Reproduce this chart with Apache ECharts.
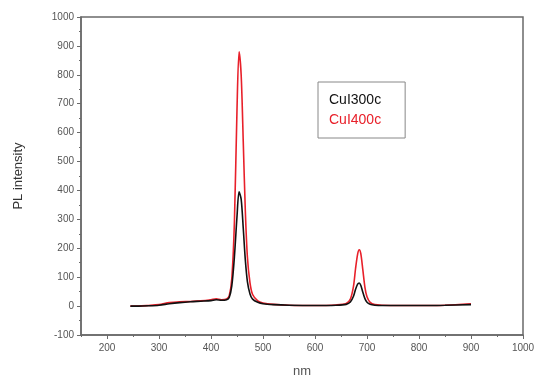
<!DOCTYPE html>
<html>
<head>
<meta charset="utf-8">
<script src="https://cdn.jsdelivr.net/npm/echarts@6/dist/echarts.min.js"></script>
<style>
    html, body { margin: 0; padding: 0; background: #fff; }
    #chart { width: 539px; height: 383px; }
</style>
</head>
<body>
<div id="chart"></div>
<script>
// wavelength (nm) sample points, shared by both curves
const nm = [245, 260, 280, 300, 320, 340, 360, 380, 400, 410, 420, 430, 435, 440, 445, 450, 454, 458, 462, 466, 470, 475, 480, 490, 500, 520, 550, 600, 640, 660, 668, 674, 678, 682, 685, 688, 692, 696, 700, 706, 715, 730, 800, 850, 900]
// PL intensity
const cui300c = [0, 0, 1, 3, 8, 12, 15, 17, 19, 22, 20, 22, 30, 70, 170, 310, 395, 370, 270, 160, 85, 42, 24, 13, 8, 5, 3, 2, 3, 6, 14, 34, 58, 76, 80, 72, 48, 26, 13, 6, 3, 2, 2, 3, 5]
const cui400c = [0, 0, 2, 5, 12, 15, 16, 18, 22, 25, 22, 25, 35, 95, 290, 680, 880, 800, 570, 330, 170, 80, 40, 18, 11, 6, 3, 2, 4, 9, 24, 68, 130, 180, 195, 182, 125, 65, 32, 13, 5, 3, 2, 3, 8]
const xTicks = [200, 300, 400, 500, 600, 700, 800, 900, 1000]

const toPairs = (ys) => nm.map((x, i) => [x, ys[i]])

const chart = echarts.init(document.getElementById('chart'))
const axisColor = '#6a6a6a'
const labelColor = '#555'
const font = 'Liberation Sans, Arial, sans-serif'

const option = {
    animation: false,
    backgroundColor: '#fff',
    textStyle: { fontFamily: font },
    grid: {
        left: 81,
        right: 16,
        top: 17,
        bottom: 47,
        show: true,
        borderColor: axisColor,
        borderWidth: 1.5
    },
    legend: {
        orient: 'vertical',
        left: 318,
        top: 82,
        selectedMode: false,
        itemWidth: 0,
        itemHeight: 0,
        itemGap: 6,
        padding: [11, 24, 11, 5],
        borderColor: '#888',
        borderWidth: 1,
        textStyle: { fontSize: 14, fontFamily: font },
        data: [
            { name: 'CuI300c', textStyle: { color: '#111' } },
            { name: 'CuI400c', textStyle: { color: '#e8202a' } }
        ]
    },
    xAxis: [{
        type: 'value',
        position: 'bottom',
        min: 150,
        max: 1000,
        name: 'nm',
        nameLocation: 'middle',
        nameGap: 30,
        nameTextStyle: { color: labelColor, fontSize: 13 },
        axisLine: { onZero: false, lineStyle: { color: axisColor, width: 1.5 } },
        axisTick: { customValues: xTicks, length: 4, lineStyle: { color: axisColor } },
        axisLabel: { customValues: xTicks, color: labelColor, fontSize: 10, margin: 8, formatter: (v) => String(v) },
        splitLine: { show: false }
    }, {
        // minor ticks every 50 nm
        type: 'value',
        position: 'bottom',
        min: 150,
        max: 1000,
        interval: 50,
        axisLine: { show: false, onZero: false },
        axisTick: { length: 2, lineStyle: { color: axisColor } },
        axisLabel: { show: false },
        splitLine: { show: false }
    }],
    yAxis: {
        type: 'value',
        min: -100,
        max: 1000,
        interval: 100,
        name: 'PL intensity',
        nameLocation: 'middle',
        nameGap: 56,
        nameTextStyle: { color: '#333', fontSize: 13 },
        axisLine: { show: true, onZero: false, lineStyle: { color: axisColor, width: 1.5 } },
        axisTick: { length: 4, lineStyle: { color: axisColor } },
        minorTick: { show: true, splitNumber: 2, length: 2, lineStyle: { color: axisColor } },
        axisLabel: { color: labelColor, fontSize: 10, margin: 7, formatter: (v) => String(v) },
        splitLine: { show: false }
    },
    series: [{
        name: 'CuI400c',
        type: 'line',
        xAxisIndex: 0,
        data: toPairs(cui400c),
        smooth: 0.3,
        showSymbol: false,
        lineStyle: { color: '#e8202a', width: 1.6 },
        itemStyle: { color: '#e8202a' }
    }, {
        name: 'CuI300c',
        type: 'line',
        xAxisIndex: 0,
        data: toPairs(cui300c),
        smooth: 0.3,
        showSymbol: false,
        lineStyle: { color: '#111', width: 1.6 },
        itemStyle: { color: '#111' }
    }]
}

chart.setOption(option)
</script>
</body>
</html>
